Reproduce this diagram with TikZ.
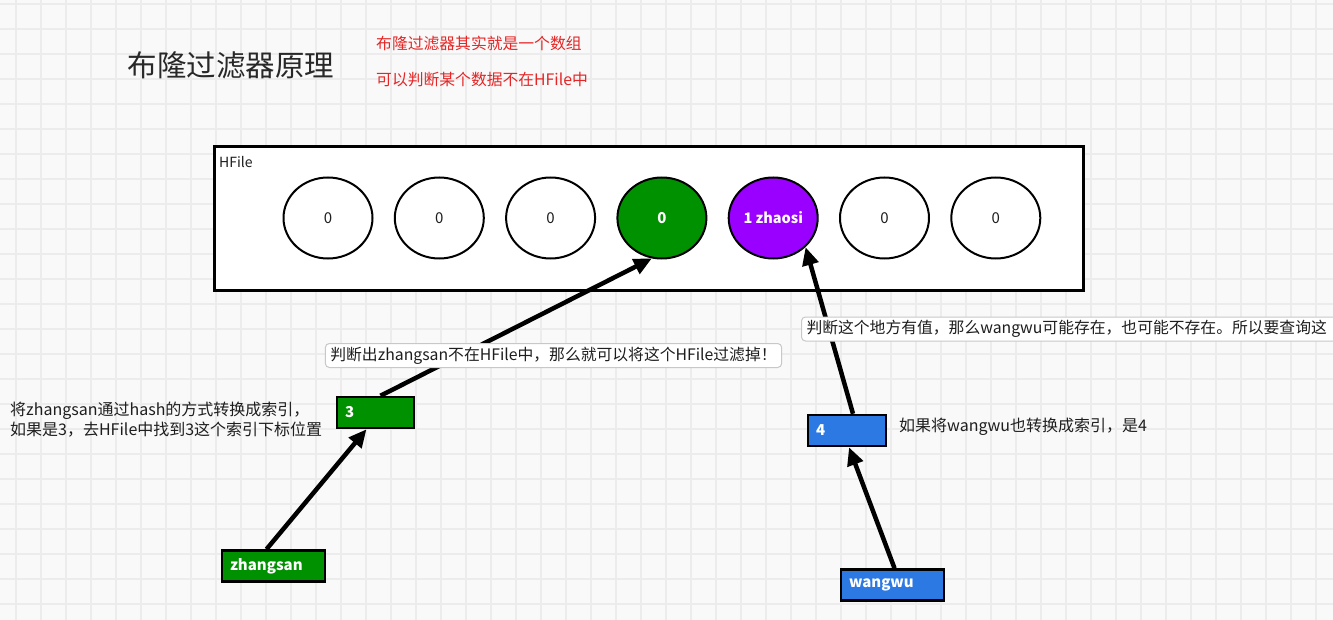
\documentclass[tikz,border=0pt]{standalone}
\usepackage{fontspec}
\newfontfamily\cjk{Noto Sans CJK SC}
\usetikzlibrary{shapes.geometric,arrows.meta,calc}
\definecolor{bg}{RGB}{249,249,249}
\definecolor{gridc}{RGB}{236,236,236}
\definecolor{gfill}{RGB}{0,145,0}
\definecolor{pfill}{RGB}{153,0,255}
\definecolor{bfill}{RGB}{45,121,228}
\definecolor{redt}{RGB}{228,38,38}
\definecolor{txt}{RGB}{30,30,30}
\definecolor{lblborder}{RGB}{200,200,200}
\begin{document}
\begin{tikzpicture}[x=1pt,y=-1pt,
  cell/.style={ellipse,draw=black,line width=2pt,minimum width=89pt,minimum height=81pt,inner sep=0pt,fill=white,text=txt,font=\cjk\fontsize{15}{17}\selectfont},
  idxbox/.style={draw=black,line width=2.5pt,inner ysep=0pt,inner xsep=8pt,minimum height=31pt,align=left,text=white,font=\cjk\bfseries\fontsize{15}{17}\selectfont},
  lbl/.style={draw=lblborder,line width=1pt,rounded corners=4pt,fill=white,inner xsep=5pt,inner ysep=0pt,minimum height=24pt,text=txt,font=\cjk\fontsize{15.8}{18}\selectfont},
  note/.style={text=txt,inner sep=3pt,font=\cjk\fontsize{16}{20}\selectfont},
  redn/.style={text=redt,inner sep=0pt,anchor=west,font=\cjk\fontsize{15.8}{18}\selectfont},
  arr/.style={line width=4.5pt,black,-{Triangle[length=18pt,width=16pt]}}
]
\useasboundingbox (0,0) rectangle (1333,620);
\clip (0,0) rectangle (1333,620);
\fill[bg] (0,0) rectangle (1333,620);
\foreach \gx in {16,41,...,1333} \draw[gridc,line width=1.5pt] (\gx,0) -- (\gx,620);
\foreach \gy in {4,29,...,620} \draw[gridc,line width=1.5pt] (0,\gy) -- (1333,\gy);

% title and red notes
\node[text={rgb,255:red,40;green,40;blue,40},font=\cjk\fontsize{29.5}{32}\selectfont] (title) at (231,65) {布隆过滤器原理};
\node[redn] (r1) at (376,43) {布隆过滤器其实就是一个数组};
\node[redn] (r2) at (376,80) {可以判断某个数据不在HFile中};

% HFile container
\node[draw=black,line width=3pt,fill=white,minimum width=869pt,minimum height=144pt,inner sep=0pt] (hf) at (648.5,219) {};
\node[anchor=west,inner sep=0pt,text=txt,font=\cjk\fontsize{14}{16}\selectfont] (hfl) at (219,162) {HFile};

% cells
\node[cell] (c0) at (328,218) {0};
\node[cell] (c1) at (439.3,218) {0};
\node[cell] (c2) at (550.6,218) {0};
\node[cell,fill=gfill,text=white,font=\cjk\bfseries\fontsize{15}{17}\selectfont] (c3) at (661.9,218) {0};
\node[cell,fill=pfill,text=white,font=\cjk\bfseries\fontsize{14.5}{16}\selectfont] (c4) at (773.2,218) {1 zhaosi};
\node[cell] (c5) at (884.5,218) {0};
\node[cell] (c6) at (995.8,218) {0};

% index boxes
\node[idxbox,fill=gfill,text width=61pt] (b3) at (375.5,412.5) {3};
\node[idxbox,fill=gfill,text width=87pt] (zs) at (273.5,566) {zhangsan};
\node[idxbox,fill=bfill,text width=62pt] (b4) at (847,430.5) {4};
\node[idxbox,fill=bfill,text width=87pt] (wg) at (892.5,585) {wangwu};

% arrows
\draw[arr] ($(zs.north)+(-7,0)$) -- ($(b3.south)+(-9,0)$);
\draw[arr] ($(b3.north)+(5,0)$) -- (c3.-104);
\draw[arr] ($(wg.north)+(2,0)$) -- ($(b4.south)+(2,0)$);
\draw[arr] ($(b4.north)+(6,0)$) -- (c4.-42);

% labels
\node[lbl] (l1) at (553.5,355.5) {判断出zhangsan不在HFile中，那么就可以将这个HFile过滤掉！};
\node[lbl,anchor=west,text width=560pt,align=left] (l2) at (801,329) {判断这个地方有值，那么wangwu可能存在，也可能不存在。所以要查询这};

% notes
\node[note,anchor=west,align=left] (n1) at (7,419.5) {将zhangsan通过hash的方式转换成索引，\\如果是3，去HFile中找到3这个索引下标位置};
\node[note,anchor=west] (n2) at (896,427) {如果将wangwu也转换成索引，是4};
\end{tikzpicture}
\end{document}
